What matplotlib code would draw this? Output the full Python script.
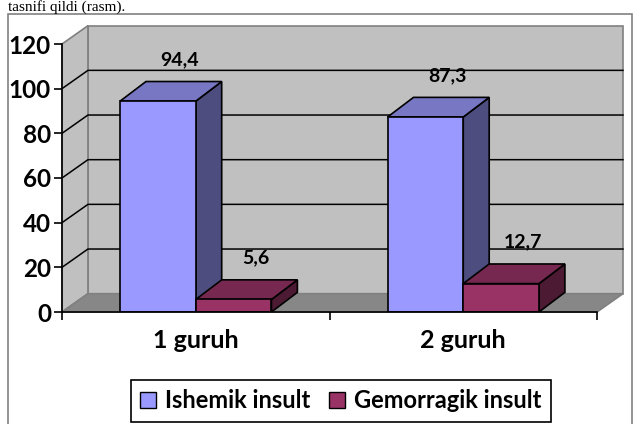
import matplotlib.pyplot as plt
from matplotlib.patches import Polygon, Rectangle, Patch

groups = ['1 guruh', '2 guruh']
series = ['Ishemik insult', 'Gemorragik insult']
ishemik = [94.4, 87.3]
gemorragik = [5.6, 12.7]
value_labels = [['94,4', '87,3'], ['5,6', '12,7']]
yticks = [0, 20, 40, 60, 80, 100, 120]

front_col = ['#9999FF', '#993366']
top_col = ['#7777C4', '#772850']
side_col = ['#4D4D80', '#4D1A33']

# 3d look: depth offset in data units
DX, DY = 0.097, 8.2
BDY = 8.8
W = 0.283

plt.rcParams['font.family'] = ['Lato', 'DejaVu Sans']
fig = plt.figure(figsize=(6.35, 4.24), dpi=100)
fig.patches.append(Rectangle((8/635, -0.05), 624/635, 1.05 - 14/424,
                             transform=fig.transFigure, fc='white',
                             ec='#808080', lw=1.2, zorder=-1))
fig.text(8/635, 1 - 11/424, 'tasnifi qildi (rasm).', family='Liberation Serif',
         fontsize=11, va='baseline')

ax = fig.add_axes([62/635, 1 - 312/424, 535/635, 268/424])
ax.set_xlim(0, 2)
ax.set_ylim(0, 120)
ax.patch.set_visible(False)
for s in ['top', 'right']:
    ax.spines[s].set_visible(False)
for s in ['left', 'bottom']:
    ax.spines[s].set_color('black')
    ax.spines[s].set_linewidth(1.2)
    ax.spines[s].set_zorder(20)

ymax = yticks[-1]
walls = dict(fc='#C0C0C0', ec='#808080', lw=1.2, clip_on=False, zorder=1)
ax.add_patch(Polygon([(DX, DY), (2 + DX, DY), (2 + DX, ymax + DY), (DX, ymax + DY)], **walls))
ax.add_patch(Polygon([(0, 0), (DX, DY), (DX, ymax + DY), (0, ymax)], **walls))
ax.add_patch(Polygon([(0, 0), (2, 0), (2 + DX, DY), (DX, DY)], fc='#878787',
                     ec='#808080', lw=1.2, clip_on=False, zorder=1))
for v in yticks[1:-1]:
    ax.plot([0, DX, 2 + DX], [v, v + DY, v + DY], color='black', lw=1.1,
            clip_on=False, zorder=2)

z = 3
for i in range(len(groups)):
    c = i + 0.5
    for k, vals in enumerate([ishemik, gemorragik]):
        v = vals[i]
        x0 = c - W if k == 0 else c
        ax.add_patch(Polygon([(x0 + W, 0), (x0 + W + DX, BDY), (x0 + W + DX, v + BDY), (x0 + W, v)],
                             fc=side_col[k], ec='black', lw=1.2, zorder=z))
        ax.add_patch(Polygon([(x0, v), (x0 + W, v), (x0 + W + DX, v + BDY), (x0 + DX, v + BDY)],
                             fc=top_col[k], ec='black', lw=1.2, zorder=z))
        ax.bar(x0, v, width=W, align='edge', color=front_col[k], edgecolor='black',
               lw=1.2, zorder=z + 1)
        ax.annotate(value_labels[k][i], xy=(x0 + W / 2 + DX, v + BDY), xytext=(-4, 22),
                    textcoords='offset pixels', ha='center', va='center',
                    fontsize=14, weight='bold')
        z += 2

ax.set_yticks(yticks)
ax.set_yticklabels([str(t) for t in yticks], fontsize=17.5, weight='bold')
ax.tick_params(axis='y', direction='out', length=6, width=1.2, pad=2)
ax.set_xticks([0, 1, 2])
ax.set_xticklabels(['', '', ''])
ax.tick_params(axis='x', which='major', direction='out', length=6, width=1.2)
ax.set_xticks([0.5, 1.5], minor=True)
ax.set_xticklabels(groups, minor=True, fontsize=18, weight='bold')
ax.tick_params(axis='x', which='minor', length=0, pad=12)

handles = [Patch(fc=front_col[0], ec='black'), Patch(fc=front_col[1], ec='black')]
leg = fig.legend(handles, series, loc='upper center', bbox_to_anchor=(341/635, 1 - 380/424),
                 ncol=2, frameon=True, edgecolor='black', fancybox=False,
                 prop={'weight': 'bold', 'size': 17}, handlelength=0.65, handleheight=0.65,
                 handletextpad=0.4, columnspacing=0.8, borderaxespad=0, borderpad=0.4)
leg.get_frame().set_linewidth(1.2)
leg.get_frame().set_alpha(1)

fig.savefig('out.png', dpi=100)
